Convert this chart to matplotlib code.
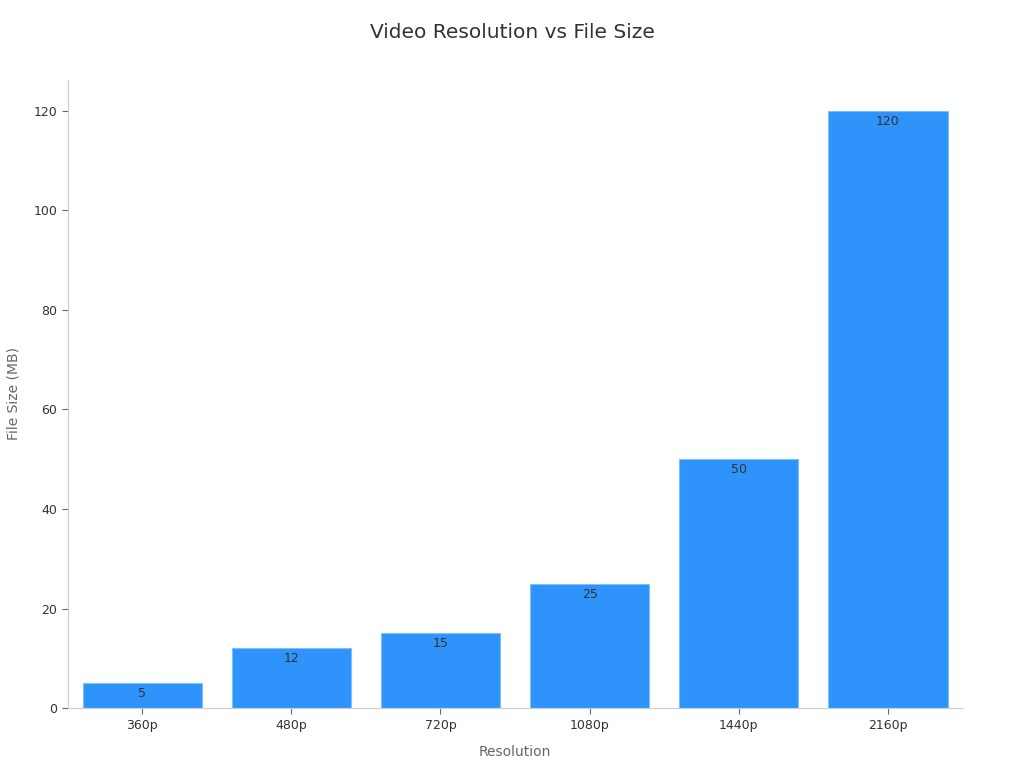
import matplotlib.pyplot as plt

resolutions = ['360p', '480p', '720p', '1080p', '1440p', '2160p']
file_sizes = [5, 12, 15, 25, 50, 120]

fig = plt.figure(figsize=(10.24, 7.68), dpi=100)
ax = fig.add_axes([0.066, 0.078, 0.874, 0.818])

bars = ax.bar(range(len(resolutions)), file_sizes, width=0.8,
              color='#2E93FA', edgecolor='#7FBFFF', linewidth=0.8)

for i, v in enumerate(file_sizes):
    ax.text(i, v - 0.8, str(v), ha='center', va='top', fontsize=9, color='#333333')

ax.set_xticks(range(len(resolutions)))
ax.set_xticklabels(resolutions)
ax.set_xlim(-0.5, 5.5)
ax.set_ylim(0, 126.2)
ax.set_yticks([0, 20, 40, 60, 80, 100, 120])

for side in ['top', 'right']:
    ax.spines[side].set_visible(False)
for side in ['left', 'bottom']:
    ax.spines[side].set_color('#cccccc')
ax.tick_params(colors='#333333', labelsize=9, length=4)
ax.tick_params(axis='both', color='#666666')

ax.set_xlabel('Resolution', fontsize=10, color='#666666', labelpad=10)
ax.set_ylabel('File Size (MB)', fontsize=10, color='#666666', labelpad=9)
fig.suptitle('Video Resolution vs File Size', fontsize=14.5, color='#333333', y=0.97)

plt.savefig('out.png')
